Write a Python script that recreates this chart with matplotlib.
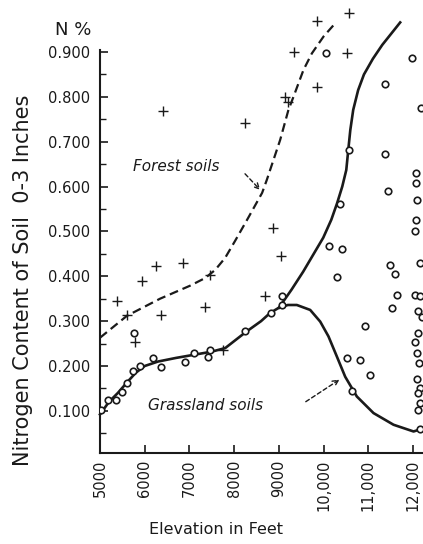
import matplotlib
matplotlib.use("Agg")
import matplotlib.pyplot as plt
from matplotlib.ticker import FixedLocator

# ── Data ─────────────────────────────────────────────────────────────────────
forest_x = [5373, 5597, 5783, 5932, 6246, 6365, 6409, 6864, 7349, 7460, 7758,
            8244, 8691, 8878, 9040, 9139, 9213, 9340, 9845, 9845, 10532, 10577]
forest_y = [0.344, 0.314, 0.254, 0.390, 0.423, 0.313, 0.769, 0.429, 0.331, 0.403,
            0.236, 0.742, 0.356, 0.507, 0.446, 0.800, 0.789, 0.901, 0.821, 0.970,
            0.898, 0.988]

grass_x = [5029, 5179, 5365, 5492, 5611, 5738, 5888, 6186, 6371, 6908, 7103, 7416,
           7452, 5761, 8244, 8816, 9063, 9063,
           10056, 11360, 10555, 11376, 11433, 10369, 10108, 10420, 10293, 11472,
           11600, 11635, 11523, 10928, 10517, 10817, 11025, 10629,
           11971, 12181, 12060, 12070, 12083, 12060, 12047, 12159, 12047, 12159,
           12110, 12195, 12099, 12047, 12080, 12121, 12080, 12143, 12100, 12143,
           12100, 12159]
grass_y = [0.102, 0.124, 0.124, 0.141, 0.163, 0.188, 0.199, 0.217, 0.197, 0.208,
           0.229, 0.221, 0.236, 0.273, 0.278, 0.319, 0.355, 0.336,
           0.897, 0.829, 0.682, 0.672, 0.591, 0.561, 0.468, 0.460, 0.398, 0.425,
           0.405, 0.358, 0.329, 0.289, 0.217, 0.214, 0.180, 0.145,
           0.887, 0.775, 0.630, 0.608, 0.570, 0.525, 0.500, 0.429, 0.358, 0.357,
           0.322, 0.310, 0.273, 0.254, 0.228, 0.206, 0.171, 0.150, 0.140, 0.117,
           0.101, 0.059]

# hand-drawn trend curves (traced)
forest_curve_x = [5000, 5604, 6342, 7013, 7349, 7573, 7797, 8020, 8311, 8624,
                  8729, 9027, 9212, 9324, 9548, 9736, 10000, 10257]
forest_curve_y = [0.263, 0.312, 0.350, 0.379, 0.396, 0.414, 0.441, 0.479, 0.530,
                  0.586, 0.615, 0.704, 0.771, 0.800, 0.860, 0.897, 0.935, 0.964]

grass_low_x = [5000, 5200, 5400, 5600, 5800, 6000, 6300, 6700, 7100, 7500, 7800,
               8250, 8600, 8800, 9000, 9200, 9400, 9698, 9922, 10107, 10295,
               10481, 10741, 11114, 11561, 12009, 12200]
grass_low_y = [0.092, 0.120, 0.140, 0.163, 0.185, 0.200, 0.210, 0.218, 0.225,
               0.232, 0.240, 0.275, 0.300, 0.318, 0.330, 0.336, 0.336, 0.325,
               0.299, 0.266, 0.221, 0.176, 0.132, 0.095, 0.069, 0.054, 0.060]

grass_up_x = [9000, 9280, 9540, 9765, 9990, 10170, 10300, 10415, 10505, 10550,
              10595, 10660, 10770, 10900, 11100, 11310, 11710]
grass_up_y = [0.330, 0.370, 0.410, 0.448, 0.486, 0.526, 0.563, 0.600, 0.637,
              0.682, 0.726, 0.771, 0.815, 0.850, 0.885, 0.916, 0.966]

xticks = [5000, 6000, 7000, 8000, 9000, 10000, 11000, 12000]
xticklabels = ["5000", "6000", "7000", "8000", "9000", "10,000", "11,000", "12,000"]
yticks = [0.1, 0.2, 0.3, 0.4, 0.5, 0.6, 0.7, 0.8, 0.9]
yticklabels = ["0.100", "0.200", "0.300", "0.400", "0.500", "0.600", "0.700",
               "0.800", "0.900"]
yminor = [0.05, 0.15, 0.25, 0.35, 0.45, 0.55, 0.65, 0.75, 0.85]

# ── Plot ─────────────────────────────────────────────────────────────────────
ink = "#1a1a1a"
fig = plt.figure(figsize=(4.23, 5.44), dpi=100, facecolor="white")
ax = fig.add_axes([100 / 423, 91 / 544, 323 / 423, 453 / 544])
ax.set_xlim(5000, 12220)
ax.set_ylim(0.006, 1.016)

ax.plot(forest_curve_x, forest_curve_y, color=ink, lw=1.6, ls=(0, (4, 2.2)),
        clip_on=False)
ax.plot(grass_low_x, grass_low_y, color=ink, lw=1.9, clip_on=False)
ax.plot(grass_up_x, grass_up_y, color=ink, lw=1.9, clip_on=False)

ax.scatter(forest_x, forest_y, marker="+", s=50, color=ink, lw=1.0, zorder=3)
ax.scatter(grass_x, grass_y, marker="o", s=22, facecolors="white",
           edgecolors=ink, lw=1.2, zorder=3)

# labels with dashed arrows
ax.text(5738, 0.644, "Forest soils", fontsize=11, style="italic", color=ink,
        va="center", ha="left")
ax.annotate("", xy=(8624, 0.588), xytext=(8199, 0.633),
            arrowprops=dict(arrowstyle="->", ls=(0, (3, 2)), lw=1.0, color=ink))
ax.text(6074, 0.113, "Grassland soils", fontsize=11, style="italic", color=ink,
        va="center", ha="left")
ax.annotate("", xy=(10405, 0.173), xytext=(9548, 0.117),
            arrowprops=dict(arrowstyle="->", ls=(0, (3, 2)), lw=1.0, color=ink))

# axes styling
for s in ("top", "right"):
    ax.spines[s].set_visible(False)
ax.spines["left"].set_bounds(0.006, 0.905)
for s in ("left", "bottom"):
    ax.spines[s].set_linewidth(1.5)
    ax.spines[s].set_color(ink)

ax.set_xticks(xticks)
ax.set_xticklabels(xticklabels, rotation=90)
ax.set_yticks(yticks)
ax.set_yticklabels(yticklabels)
ax.yaxis.set_minor_locator(FixedLocator(yminor))
ax.tick_params(axis="both", which="major", direction="in", length=6, width=1.2,
               colors=ink, labelsize=10.5)
ax.tick_params(axis="y", which="major", pad=7)
ax.tick_params(axis="x", which="major", pad=5)
ax.tick_params(axis="y", which="minor", direction="in", length=4, width=1.0,
               colors=ink)

fig.text(73 / 423, 1 - 30 / 544, "N %", fontsize=13, ha="center", va="center",
         color=ink)
fig.text(23 / 423, 1 - 280 / 544, "Nitrogen Content of Soil  0-3 Inches",
         fontsize=15, rotation=90, ha="center", va="center", color=ink)
fig.text(216 / 423, 1 - 530 / 544, "Elevation in Feet", fontsize=11.5,
         ha="center", va="center", color=ink)

fig.savefig("out.png", dpi=100, facecolor="white")
